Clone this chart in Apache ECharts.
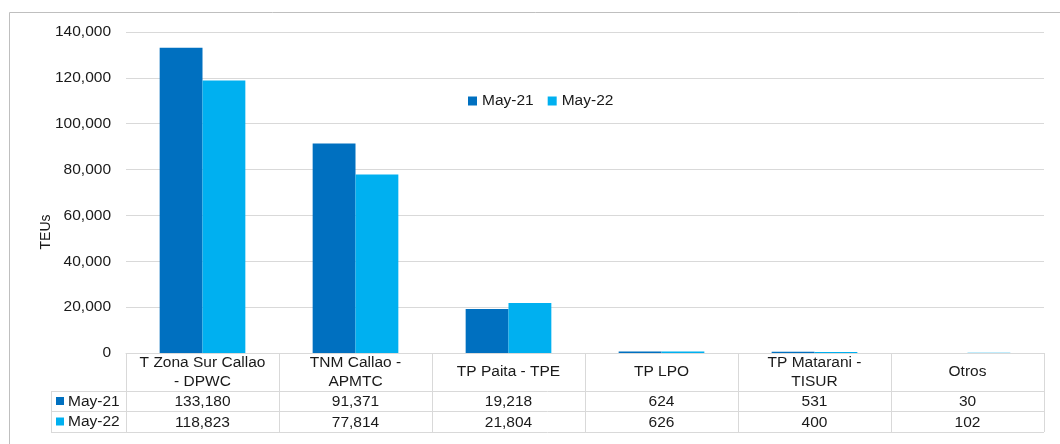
<!DOCTYPE html>
<html>
<head>
<meta charset="utf-8">
<script src="https://cdn.jsdelivr.net/npm/echarts@6/dist/echarts.min.js"></script>
<style>
  html, body { margin: 0; padding: 0; background: #fff; }
  #main { width: 1060px; height: 444px; }
</style>
</head>
<body>
<div id="main"></div>
<script>
var categories = ['T Zona Sur Callao\n- DPWC', 'TNM Callao -\nAPMTC', 'TP Paita - TPE', 'TP LPO', 'TP Matarani -\nTISUR', 'Otros'];
var may21 = [133180, 91371, 19218, 624, 531, 30];
var may22 = [118823, 77814, 21804, 626, 400, 102];
var seriesNames = ['May-21', 'May-22'];
var colors = ['#0070C0', '#00B0F0'];
var yTicks = { min: 0, max: 140000, interval: 20000 };

var fmt = function (v) { return Number(v).toLocaleString('en-US'); };
var font = 'Arial, "Liberation Sans", sans-serif';
var fs = 15.5;
var txt = '#1a1a1a';
var lineCol = '#d9d9d9';

// grid / table geometry
var gLeft = 126, gRight = 1044, gBottom = 353;
var rowY = [353, 391, 411, 432];
var legColX = 51;

var myChart = echarts.init(document.getElementById('main'));

var graphics = [
  // outer frame
  { type: 'rect', shape: { x: 9.5, y: 12.5, width: 1070, height: 450 }, style: { fill: 'none', stroke: '#bfbfbf', lineWidth: 1 }, silent: true },
  // axis title
  { type: 'text', x: 46, y: 232, rotation: Math.PI / 2,
    style: { text: 'TEUs', font: '14px ' + font, fill: txt, align: 'center', verticalAlign: 'middle' } }
];
// horizontal table lines
graphics.push({ type: 'line', shape: { x1: legColX, y1: rowY[1] + 0.5, x2: gRight, y2: rowY[1] + 0.5 }, style: { stroke: lineCol, lineWidth: 1 } });
graphics.push({ type: 'line', shape: { x1: legColX, y1: rowY[2] + 0.5, x2: gRight, y2: rowY[2] + 0.5 }, style: { stroke: lineCol, lineWidth: 1 } });
graphics.push({ type: 'line', shape: { x1: legColX, y1: rowY[3] + 0.5, x2: gRight, y2: rowY[3] + 0.5 }, style: { stroke: lineCol, lineWidth: 1 } });
graphics.push({ type: 'line', shape: { x1: legColX + 0.5, y1: rowY[1], x2: legColX + 0.5, y2: rowY[3] }, style: { stroke: lineCol, lineWidth: 1 } });
// row keys
seriesNames.forEach(function (n, i) {
  var cy = (rowY[i + 1] + rowY[i + 2]) / 2;
  graphics.push({ type: 'rect', shape: { x: 56, y: cy - 4, width: 8, height: 8 }, style: { fill: colors[i] } });
  graphics.push({ type: 'text', x: 68, y: cy + 0.5, style: { text: n, font: fs + 'px ' + font, fill: txt, verticalAlign: 'middle' } });
});

var option = {
  animation: false,
  textStyle: { fontFamily: font },
  grid: { left: gLeft, right: 1060 - gRight, top: 32, bottom: 444 - gBottom },
  legend: {
    data: seriesNames,
    left: 463, top: 88,
    icon: 'rect', itemWidth: 9, itemHeight: 9, itemGap: 14, itemTextGap: 5,
    textStyle: { fontSize: fs, color: txt, fontFamily: font }
  },
  xAxis: [
    {
      type: 'category', data: categories, position: 'bottom',
      axisLine: { show: true, lineStyle: { color: lineCol, width: 1 } },
      axisTick: { show: true, length: rowY[3] - rowY[0], lineStyle: { color: lineCol } },
      axisLabel: { interval: 0, hideOverlap: false, color: txt, fontSize: fs, lineHeight: 19,
        margin: (rowY[1] - rowY[0]) / 2, verticalAlign: 'middle', fontFamily: font }
    },
    {
      type: 'category', data: may21.map(fmt), position: 'bottom', offset: rowY[1] - rowY[0],
      axisLine: { show: false }, axisTick: { show: false },
      axisLabel: { interval: 0, hideOverlap: false, color: txt, fontSize: fs, lineHeight: 17, margin: 2, fontFamily: font }
    },
    {
      type: 'category', data: may22.map(fmt), position: 'bottom', offset: rowY[2] - rowY[0],
      axisLine: { show: false }, axisTick: { show: false },
      axisLabel: { interval: 0, hideOverlap: false, color: txt, fontSize: fs, lineHeight: 17, margin: 3, fontFamily: font }
    }
  ],
  yAxis: {
    type: 'value', min: yTicks.min, max: yTicks.max, interval: yTicks.interval,
    axisLine: { show: false }, axisTick: { show: false },
    splitLine: { lineStyle: { color: lineCol, width: 1 } },
    axisLabel: { color: txt, fontSize: fs, margin: 15, formatter: fmt, fontFamily: font }
  },
  series: [
    { name: seriesNames[0], type: 'bar', data: may21, barGap: '0%', barCategoryGap: '44%', itemStyle: { color: colors[0] } },
    { name: seriesNames[1], type: 'bar', data: may22, barGap: '0%', barCategoryGap: '44%', itemStyle: { color: colors[1] } }
  ],
  graphic: graphics
};
myChart.setOption(option);
</script>
</body>
</html>
